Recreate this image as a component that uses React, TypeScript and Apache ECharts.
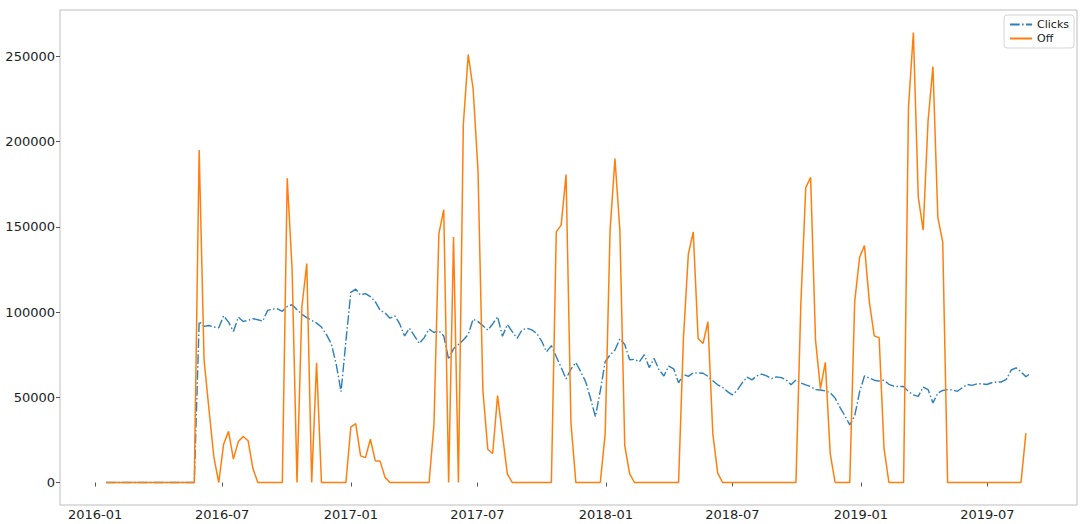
import React, { useEffect, useRef } from "react";
import * as echarts from "echarts";

// Weekly series (Sundays), first week 2016-01-17, 190 weeks
const FIRST_WEEK = "2016-01-17";
const WEEK_COUNT = 190;

const clicks: number[] = [
  0, 0, 0, 0, 0, 0, 0, 0, 0, 0, 0, 0, 0, 0, 0, 0, 0, 0, 0,
  94500, 91600, 92100, 91200, 90800, 97800, 94100, 88600, 97000, 94500,
  95100, 96100, 95500, 94700, 101000, 101700, 101900, 100400, 103300, 104300,
  101400, 98600, 96700, 95100, 93500, 91200, 86900, 81400, 69700, 53300,
  83000, 111500, 113400, 110000, 110800, 109100, 106100, 101000, 99500, 96400,
  97700, 93000, 86000, 90500, 86000, 81500, 85000, 90000, 88000, 89000,
  86000, 72200, 78500, 81000, 83600, 86900, 95800, 94400, 92000, 89400,
  93000, 97300, 85800, 92700, 88500, 84600, 89500, 90500, 89500, 87500,
  83000, 76700, 80300, 73800, 67500, 60800, 66500, 70400, 65000, 59200,
  49400, 38600, 53800, 70900, 74800, 77700, 84300, 81000, 72000, 72300,
  70800, 75000, 67400, 72800, 66200, 62500, 68300, 66700, 58500, 63400,
  62300, 64300, 64300, 64100, 62300, 59700, 57300, 55800, 53300, 51400,
  54100, 58400, 61800, 60200, 62600, 63600, 62500, 60900, 62000, 61500,
  60200, 57300, 60200, 58400, 57300, 56300, 54500, 54300, 53700, 52700,
  49500, 44100, 39200, 33800, 39000, 53000, 62500, 61300, 60000, 59500,
  60000, 57600, 56500, 56300, 56300, 53300, 51400, 50500, 56000, 54500,
  46700, 52500, 54000, 54500, 54300, 53500, 55600, 57500, 57000, 57900,
  57900, 57500, 58500, 59000, 59000, 60500, 66000, 67300, 65000, 62000,
  64200,
];

const off: number[] = [
  0, 0, 0, 0, 0, 0, 0, 0, 0, 0, 0, 0, 0, 0, 0, 0, 0, 0, 0,
  195000, 72000, 43000, 15000, 0, 22500, 30000, 13700, 24000, 27000,
  24500, 8000, 0, 0, 0, 0, 0, 0, 178500, 125000,
  0, 103000, 128500, 0, 70300, 0, 0, 0, 0, 0,
  0, 32500, 34500, 15600, 14600, 25400, 12700, 12400, 3000, 0,
  0, 0, 0, 0, 0, 0, 0, 0, 34000, 146000,
  160000, 0, 144000, 0, 210000, 251000, 231000, 183000, 54000, 19500,
  17000, 51000, 28000, 5000, 0, 0, 0, 0, 0, 0,
  0, 0, 0, 147000, 151000, 180700, 35000, 0, 0, 0,
  0, 0, 0, 28700, 148000, 190000, 148000, 21700, 5000, 0,
  0, 0, 0, 0, 0, 0, 0, 0, 0, 85000,
  134000, 147000, 84500, 81600, 94300, 28700, 5500, 0, 0, 0,
  0, 0, 0, 0, 0, 0, 0, 0, 0, 0,
  0, 0, 0, 105000, 173000, 179000, 83500, 55000, 70500, 17000,
  0, 0, 0, 0, 106000, 132000, 139000, 106000, 86000, 85000,
  20000, 0, 0, 0, 0, 220000, 264000, 167500, 148000, 212000,
  244000, 155500, 141000, 0, 0, 0, 0, 0, 0, 0,
  0, 0, 0, 0, 0, 0, 0, 0, 0, 29000,
];

const xTickLabels: string[] = [
  "2016-01", "2016-07", "2017-01", "2017-07", "2018-01", "2018-07", "2019-01", "2019-07",
];
const yTickValues: number[] = [0, 50000, 100000, 150000, 200000, 250000];

const DAY = 86400000;

function parseYM(s: string): number {
  const [y, m] = s.split("-").map(Number);
  return Date.UTC(y, m - 1, 1);
}

export default function App() {
  const ref = useRef<HTMLDivElement>(null);

  useEffect(() => {
    if (!ref.current) return;
    const chart = echarts.init(ref.current, undefined, { renderer: "svg" });

    const [fy, fm, fd] = FIRST_WEEK.split("-").map(Number);
    const start = Date.UTC(fy, fm - 1, fd);
    const weeks: number[] = [];
    for (let i = 0; i < WEEK_COUNT; i++) weeks.push(start + i * 7 * DAY);
    const end = weeks[weeks.length - 1];
    const span = end - start;
    const xMin = start - span * 0.05;
    const xMax = end + span * 0.05;

    const allVals = clicks.concat(off);
    const vMax = Math.max(...allVals);
    const vMin = Math.min(...allVals);
    const vSpan = vMax - vMin;
    const yMin = vMin - vSpan * 0.05;
    const yMax = vMax + vSpan * 0.05;

    const xTicks = xTickLabels.map(parseYM);
    const fmtX = (v: number) => {
      const d = new Date(v);
      const m = d.getUTCMonth() + 1;
      return `${d.getUTCFullYear()}-${m < 10 ? "0" + m : m}`;
    };

    const font = "DejaVu Sans";

    chart.setOption({
      animation: false,
      backgroundColor: "#ffffff",
      grid: {
        left: 60,
        top: 10,
        width: 1017,
        height: 495,
        show: true,
        borderColor: "#bdbdbd",
        borderWidth: 1,
      },
      legend: {
        data: ["Clicks", "Off"],
        orient: "vertical",
        right: 6,
        top: 15,
        itemWidth: 22,
        itemHeight: 11,
        itemGap: 3,
        padding: [4, 5, 4, 5],
        backgroundColor: "rgba(255,255,255,0.85)",
        borderColor: "#d4d4d4",
        borderWidth: 1,
        borderRadius: 3,
        itemStyle: { opacity: 0 },
        textStyle: { fontSize: 11, fontFamily: font, color: "#222" },
      },
      xAxis: {
        type: "value",
        min: xMin,
        max: xMax,
        axisLine: { show: false },
        splitLine: { show: false },
        axisTick: {
          show: true,
          length: 4,
          lineStyle: { color: "#555" },
          customValues: xTicks,
        },
        axisLabel: {
          customValues: xTicks,
          formatter: fmtX,
          fontSize: 13,
          fontFamily: font,
          color: "#222",
          margin: 3,
        },
      },
      yAxis: {
        type: "value",
        min: yMin,
        max: yMax,
        axisLine: { show: false },
        splitLine: { show: false },
        axisTick: {
          show: true,
          length: 4,
          lineStyle: { color: "#555" },
          customValues: yTickValues,
        },
        axisLabel: {
          customValues: yTickValues,
          formatter: (v: number) => String(v),
          fontSize: 13,
          fontFamily: font,
          color: "#222",
          margin: 5,
        },
      },
      series: [
        {
          name: "Clicks",
          type: "line",
          data: weeks.map((t, i) => [t, clicks[i]]),
          symbol: "none",
          showSymbol: false,
          lineStyle: { color: "#2b7fba", width: 1.4, type: [9.6, 2.4, 1.5, 2.4] },
          itemStyle: { color: "#1f77b4" },
        },
        {
          name: "Off",
          type: "line",
          data: weeks.map((t, i) => [t, off[i]]),
          symbol: "none",
          showSymbol: false,
          lineStyle: { color: "#ff7f0e", width: 1.5 },
          itemStyle: { color: "#ff7f0e" },
        },
      ],
    });

    return () => chart.dispose();
  }, []);

  return (
    <div
      ref={ref}
      style={{ position: "absolute", left: 0, top: 0, width: 1080, height: 524 }}
    />
  );
}
